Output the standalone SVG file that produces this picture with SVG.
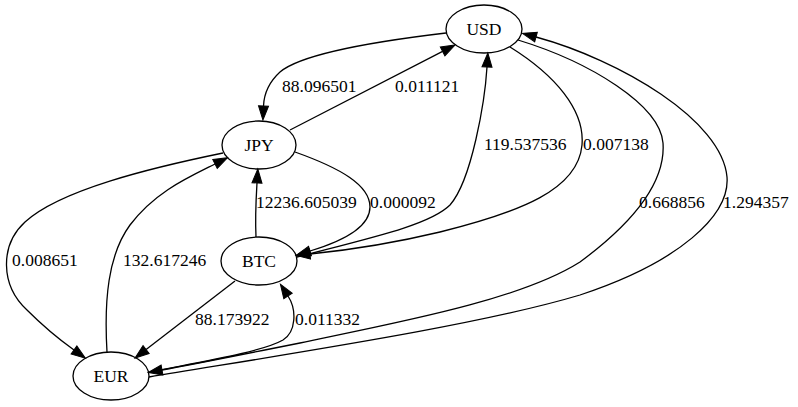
<svg xmlns="http://www.w3.org/2000/svg" width="798" height="407" viewBox="0 0 798 407">
<style>
.n ellipse{fill:none;stroke:#000;stroke-width:1.3}
text{font-family:"Liberation Serif","Times New Roman",serif;font-size:17.5px;fill:#000}
.n text{text-anchor:middle}
.e path{fill:none;stroke:#000;stroke-width:1.3;marker-end:url(#ah)}
</style>
<defs>
<marker id="ah" markerUnits="userSpaceOnUse" markerWidth="16" markerHeight="12" refX="0" refY="5" orient="auto" overflow="visible">
<path d="M0,0 L14,5 L0,10 z" fill="#000" stroke="#000" stroke-width="1"/>
</marker>
</defs>
<rect width="798" height="407" fill="#fff"/>
<g id="edges" class="e">
<path d="M446,33 C370,42 300,55 280,72 C268,83 264,94 263.5,106"/>
<path d="M290,130 L442.6,51.4"/>
<path d="M297,257 C370,238 430,225 450,205 C472,180 485,100 487,67"/>
<path d="M510,47 C555,75 585,110 582,145 C578,190 520,212 440,232 C390,244 340,251 310,254"/>
<path d="M295,152 C340,168 370,185 370,207 C370,228 340,242 310,251"/>
<path d="M256,237 C255,215 256,200 257,183"/>
<path d="M223,153 C150,168 60,190 25,222 C0,245 0,285 27,310 C45,328 60,340 74,350"/>
<path d="M107,352 C104,300 108,255 130,225 C155,192 187,178 215,164"/>
<path d="M235,281 L146.1,349.5"/>
<path d="M150,372 C200,362 262,352 283,340 C296,332 297,310 288,296"/>
<path d="M518,40 C590,62 660,105 663,143 C666,185 630,225 580,262 C520,300 400,322 300,343 C240,355 195,364 162,370"/>
<path d="M149,377 C300,352 480,325 580,295 C680,262 730,215 727,177 C722,120 620,60 536,37"/>
<text x="282" y="92">88.096501</text>
<text x="395" y="92">0.011121</text>
<text x="484" y="150">119.537536</text>
<text x="583" y="150">0.007138</text>
<text x="256" y="208">12236.605039</text>
<text x="370" y="208">0.000092</text>
<text x="639" y="208">0.668856</text>
<text x="723" y="208">1.294357</text>
<text x="12" y="266">0.008651</text>
<text x="123" y="266">132.617246</text>
<text x="195" y="325">88.173922</text>
<text x="295" y="325">0.011332</text>
</g>
<g id="USD" class="n"><ellipse cx="484" cy="29" rx="38" ry="24"/><text x="484" y="35">USD</text></g>
<g id="JPY" class="n"><ellipse cx="259" cy="145" rx="37" ry="24"/><text x="259" y="151">JPY</text></g>
<g id="BTC" class="n"><ellipse cx="259" cy="261" rx="38" ry="24"/><text x="259" y="267">BTC</text></g>
<g id="EUR" class="n"><ellipse cx="111" cy="376" rx="38" ry="24"/><text x="111" y="382">EUR</text></g>
</svg>
